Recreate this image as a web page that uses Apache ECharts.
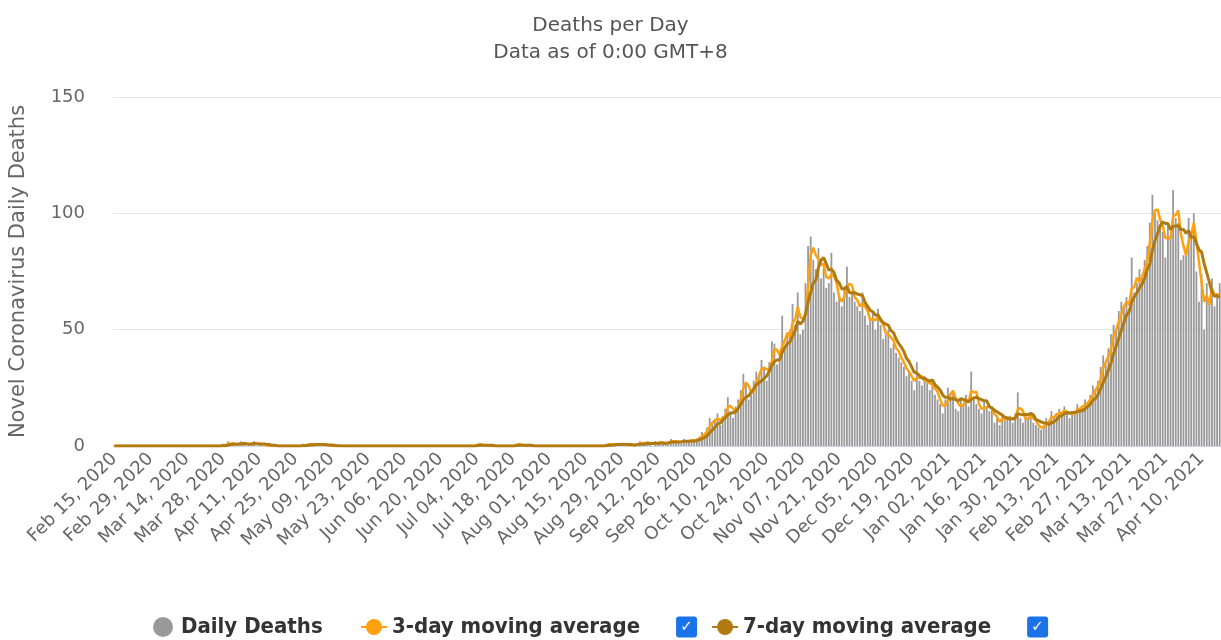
<!DOCTYPE html>
<html>
<head>
<meta charset="utf-8">
<title>Deaths per Day</title>
<script src="https://cdn.jsdelivr.net/npm/echarts@6/dist/echarts.min.js"></script>
<style>
  html, body { margin: 0; padding: 0; background: #fff; }
  #chart { width: 1221px; height: 640px; }
</style>
</head>
<body>
<div id="chart"></div>
<script>
// daily values from Feb 15, 2020, one per day
const dailyDeaths = [
  0,0,0,0,0,0,0,0,0,0,0,0,0,0,
  0,0,0,0,0,0,0,0,0,0,0,0,0,0,
  0,0,0,0,0,0,0,0,0,0,0,0,0,0,
  1,0,2,1,1,0,1,2,1,0,1,1,2,0,
  1,1,0,0,0,0,0,0,0,0,0,0,0,0,
  0,0,0,1,0,1,1,0,1,1,0,1,0,0,
  0,0,0,0,0,0,0,0,0,0,0,0,0,0,
  0,0,0,0,0,0,0,0,0,0,0,0,0,0,
  0,0,0,0,0,0,0,0,0,0,0,0,0,0,
  0,0,0,0,0,0,0,0,0,0,0,0,0,0,
  1,1,0,0,0,0,0,0,0,0,0,0,0,0,
  0,1,1,0,0,0,0,0,0,0,0,0,0,0,
  0,0,0,0,0,0,0,0,0,0,0,0,0,0,
  0,0,0,0,0,0,0,0,1,1,0,1,1,0,
  1,1,0,0,1,0,1,2,1,1,2,1,0,2,
  1,2,1,1,2,3,1,2,2,1,3,2,2,3,
  2,3,4,6,5,8,12,10,11,14,9,13,16,21,
  15,12,17,20,24,31,27,20,22,28,32,30,37,34,
  28,36,45,44,35,38,56,42,48,50,61,52,66,48,
  50,70,86,90,80,76,85,72,78,68,70,83,66,62,
  64,60,68,77,64,66,62,60,58,66,56,52,54,58,
  50,59,52,46,48,50,42,44,40,38,36,34,30,32,
  28,24,36,28,26,30,27,24,28,22,20,18,14,20,
  25,22,24,16,15,20,18,22,17,32,20,18,16,14,
  19,17,15,16,10,12,9,14,11,12,13,10,14,23,
  12,10,13,12,14,10,9,8,7,9,12,10,15,12,
  14,16,13,17,14,12,15,14,18,16,17,20,18,22,
  26,24,28,34,39,35,42,48,52,50,58,62,60,64,
  58,81,66,70,76,72,80,86,96,108,100,97,95,92,
  81,96,90,110,98,96,80,82,84,98,90,100,75,62,
  74,50,70,62,72,60,64,70
];

const avg3Day = [
  0,0,0,0,0,0,0,0,0,0,0,0,0,0,
  0,0,0,0,0,0,0,0,0,0,0,0,0,0,
  0,0,0,0,0,0,0,0,0,0,0,0,0,0,
  0.3,0.3,1,1,1.3,0.7,0.7,1,1.3,1,0.7,0.7,1.3,1,
  1,0.7,0.7,0.3,0,0,0,0,0,0,0,0,0,0,
  0,0,0,0.3,0.3,0.7,0.7,0.7,0.7,0.7,0.7,0.7,0.3,0.3,
  0,0,0,0,0,0,0,0,0,0,0,0,0,0,
  0,0,0,0,0,0,0,0,0,0,0,0,0,0,
  0,0,0,0,0,0,0,0,0,0,0,0,0,0,
  0,0,0,0,0,0,0,0,0,0,0,0,0,0,
  0.3,0.7,0.7,0.3,0,0,0,0,0,0,0,0,0,0,
  0,0.3,0.7,0.7,0.3,0,0,0,0,0,0,0,0,0,
  0,0,0,0,0,0,0,0,0,0,0,0,0,0,
  0,0,0,0,0,0,0,0,0.3,0.7,0.7,0.7,0.7,0.7,
  0.7,0.7,0.7,0.3,0.3,0.3,0.7,1,1.3,1.3,1.3,1.3,1,1,
  1,1.7,1.3,1.3,1.3,2,2,2,1.7,1.7,2,2,2.3,2.3,
  2.3,2.7,3,4.3,5,6.3,8.3,10,11,11.7,11.3,12,12.7,16.7,
  17.3,16,14.7,16.3,20.3,25,27.3,26,23,23.3,27.3,30,33,33.7,
  33,32.7,36.3,41.7,41.3,39,43,45.3,48.7,46.7,53,54.3,59.7,55.3,
  54.7,56,68.7,82,85.3,82,80.3,77.7,78.3,72.7,72,73.7,73,70.3,
  64,62,64,68.3,69.7,69,64,62.7,60,61.3,60,58,54,54.7,
  54,55.7,53.7,52.3,48.7,48,46.7,45.3,42,40.7,38,36,33.3,32,
  30,28,29.3,29.3,30,28,27.7,27,26.3,24.7,23.3,20,17.3,17.3,
  19.7,22.3,23.7,20.7,18.3,17,17.7,20,19,23.7,23,23.3,18,16,
  16.3,16.7,17,16,13.7,12.7,10.3,11.7,11.3,12.3,12,11.7,12.3,15.7,
  16.3,15,11.7,11.7,13,12,11,9,8,8,9.3,10.3,12.3,12.3,
  13.7,14,14.3,15.3,14.7,14.3,13.7,13.7,15.7,16,17,17.7,18.3,20,
  22,24,26,28.7,33.7,36,38.7,41.7,47.3,50,53.3,56.7,60,62,
  60.7,67.7,68.3,72.3,70.7,72.7,76,79.3,87.3,96.7,101.3,101.7,97.3,94.7,
  89.3,89.7,89,98.7,99.3,101.3,91.3,86,82,88,90.7,96,88.3,79,
  70.3,62,64.7,60.7,68,64.7,65.3,64.7
];

const avg7Day = [
  0,0,0,0,0,0,0,0,0,0,0,0,0,0,
  0,0,0,0,0,0,0,0,0,0,0,0,0,0,
  0,0,0,0,0,0,0,0,0,0,0,0,0,0,
  0.1,0.1,0.4,0.6,0.7,0.7,0.9,1,1.1,0.9,0.9,0.9,1.1,1,
  0.9,0.9,0.9,0.7,0.6,0.3,0.3,0.1,0,0,0,0,0,0,
  0,0,0,0.1,0.1,0.3,0.4,0.4,0.6,0.7,0.6,0.7,0.6,0.4,
  0.4,0.3,0.1,0.1,0,0,0,0,0,0,0,0,0,0,
  0,0,0,0,0,0,0,0,0,0,0,0,0,0,
  0,0,0,0,0,0,0,0,0,0,0,0,0,0,
  0,0,0,0,0,0,0,0,0,0,0,0,0,0,
  0.1,0.3,0.3,0.3,0.3,0.3,0.3,0.1,0,0,0,0,0,0,
  0,0.1,0.3,0.3,0.3,0.3,0.3,0.3,0.1,0,0,0,0,0,
  0,0,0,0,0,0,0,0,0,0,0,0,0,0,
  0,0,0,0,0,0,0,0,0.1,0.3,0.3,0.4,0.6,0.6,
  0.7,0.7,0.6,0.6,0.6,0.4,0.6,0.7,0.7,0.9,1.1,1.1,1.1,1.3,
  1.1,1.3,1.3,1.1,1.3,1.7,1.6,1.7,1.7,1.7,2,2,1.9,2.1,
  2.1,2.3,2.7,3.1,3.6,4.4,5.7,6.9,8,9.4,9.9,11,12.1,13.4,
  14.1,14.3,14.7,16.3,17.9,20,20.9,21.6,23,24.6,26.3,27.1,28,29,
  30.1,32.1,34.6,36.3,37,37.1,40.3,42.3,44,44.7,47.1,49.6,53.6,52.4,
  53.6,56.7,61.9,66,70,71.4,76.7,79.9,81,78.4,75.6,76,74.6,71.3,
  70.1,67.6,67.6,68.6,65.9,65.9,65.9,65.3,65,64.7,61.7,60,58.3,57.7,
  56.3,56.4,54.4,53,52.4,51.9,49.6,48.7,46,44,42.6,40.6,37.7,36.3,
  34,31.7,31.4,30.3,29.1,29.1,28.4,27.9,28.4,26.4,25.3,24.1,21.9,20.9,
  21,20.1,20.4,19.9,19.4,20.3,20,19.6,18.9,20,20.6,21,20.4,19.9,
  19.4,19.4,17,16.4,15.3,14.7,14,13.3,12.4,12,11.6,11.6,11.9,13.9,
  13.6,13.4,13.6,13.4,14,13.4,11.4,10.9,10.4,9.9,9.9,9.3,10,10.4,
  11.3,12.6,13.1,13.9,14.4,14,14.4,14.4,14.7,15.1,15.1,16,16.9,17.9,
  19.6,20.4,22.1,24.6,27.3,29.7,32.6,35.7,39.7,42.9,46.3,49.6,53.1,56.3,
  57.7,61.9,64.1,65.9,67.9,69.6,71.9,75.9,78,84,88.3,91.3,94.6,96.3,
  95.6,95.6,93,94.4,94.6,94.7,93,93.1,91.4,92.6,89.7,90,87,84.4,
  83.3,78.4,74.4,70.4,66.4,64.3,64.6,64
];

const seriesNames = ['Daily Deaths', '3-day moving average', '7-day moving average'];
const yTicks = [0, 50, 100, 150];
const tickEvery = 14; // one date label every two weeks

const monthNames = ['Jan', 'Feb', 'Mar', 'Apr', 'May', 'Jun', 'Jul', 'Aug', 'Sep', 'Oct', 'Nov', 'Dec'];
const startDate = Date.UTC(2020, 1, 15);
const dates = dailyDeaths.map((_, i) => {
  const dt = new Date(startDate + i * 86400000);
  return `${monthNames[dt.getUTCMonth()]} ${String(dt.getUTCDate()).padStart(2, '0')}, ${dt.getUTCFullYear()}`;
});

const chart = echarts.init(document.getElementById('chart'), null, { renderer: 'canvas' });

const textFont = '"DejaVu Sans", sans-serif';
const legendFont = '"DejaVu Sans Condensed", "DejaVu Sans", sans-serif';

const legendBase = {
  bottom: -3,
  itemGap: 14,
  itemWidth: 26,
  itemHeight: 20,
  formatter: (name) => (name === seriesNames[0] ? `{t|${name}}` : `{t|${name}}{sp| }{cb|✓}`),
  textStyle: {
    rich: {
      t: { fontFamily: legendFont, fontWeight: 'bold', fontSize: 22, color: '#333333' },
      sp: { width: 36 },
      cb: {
        width: 21, height: 21, lineHeight: 21, align: 'center',
        backgroundColor: '#1a73e8', borderRadius: 3,
        color: '#ffffff', fontSize: 15, fontWeight: 'bold', fontFamily: textFont,
      },
    },
  },
};

chart.setOption({
  animation: false,
  backgroundColor: '#ffffff',
  title: {
    text: 'Deaths per Day\nData as of 0:00 GMT+8',
    left: 'center',
    top: 7,
    textStyle: {
      fontFamily: textFont,
      fontSize: 20,
      fontWeight: 'normal',
      color: '#555555',
      lineHeight: 27,
    },
  },
  legend: [
    Object.assign({}, legendBase, { left: 148, data: [{ name: seriesNames[0], icon: 'circle' }] }),
    Object.assign({}, legendBase, { left: 355, data: [seriesNames[1], seriesNames[2]] }),
  ],
  grid: { left: 113, right: 0, top: 97, bottom: 194, containLabel: false },
  xAxis: {
    type: 'category',
    data: dates,
    boundaryGap: true,
    axisLine: { lineStyle: { color: '#ccd6eb' } },
    axisTick: { show: false },
    axisLabel: {
      interval: tickEvery - 1,
      rotate: 45,
      margin: 10,
      color: '#666666',
      fontFamily: textFont,
      fontSize: 18,
    },
  },
  yAxis: {
    type: 'value',
    min: yTicks[0],
    max: yTicks[yTicks.length - 1],
    interval: yTicks[1] - yTicks[0],
    name: 'Novel Coronavirus Daily Deaths',
    nameLocation: 'middle',
    nameGap: 84,
    nameTextStyle: { color: '#666666', fontFamily: textFont, fontSize: 21 },
    axisLine: { show: false },
    axisTick: { show: false },
    axisLabel: { color: '#666666', fontFamily: textFont, fontSize: 18, margin: 28 },
    splitLine: { lineStyle: { color: '#e6e6e6' } },
  },
  series: [
    {
      name: seriesNames[0],
      type: 'bar',
      data: dailyDeaths,
      barWidth: '70%',
      itemStyle: { color: '#999999' },
    },
    {
      name: seriesNames[1],
      type: 'line',
      data: avg3Day,
      symbol: 'circle',
      symbolSize: 8,
      showSymbol: false,
      lineStyle: { color: '#ffa00f', width: 2.5 },
      itemStyle: { color: '#ffa00f' },
    },
    {
      name: seriesNames[2],
      type: 'line',
      data: avg7Day,
      symbol: 'circle',
      symbolSize: 8,
      showSymbol: false,
      lineStyle: { color: '#b07a10', width: 3 },
      itemStyle: { color: '#b07a10' },
    },
  ],
});

window.addEventListener('resize', () => chart.resize());
</script>
</body>
</html>
